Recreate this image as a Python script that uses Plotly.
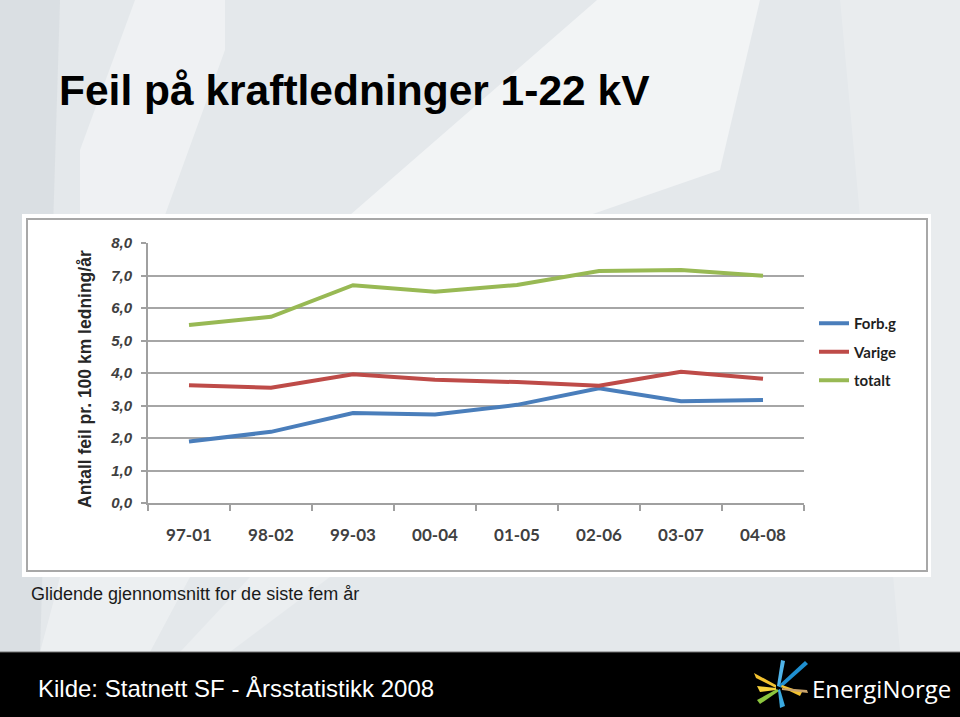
import plotly.graph_objects as go

categories = ["97-01", "98-02", "99-03", "00-04", "01-05", "02-06", "03-07", "04-08"]
forbg = [1.89, 2.19, 2.77, 2.72, 3.02, 3.53, 3.13, 3.17]
varige = [3.62, 3.55, 3.96, 3.79, 3.72, 3.61, 4.04, 3.82]
totalt = [5.48, 5.73, 6.70, 6.50, 6.71, 7.14, 7.17, 6.99]
series_names = ["Forb.g", "Varige", "totalt"]
series_colors = ["#4a7ebb", "#be4b48", "#98b954"]
y_ticks = [0, 1, 2, 3, 4, 5, 6, 7, 8]

W, H = 960, 717
def px(x):
    return x / W
def py(y):
    return 1 - y / H

fig = go.Figure()
for i, (name, vals) in enumerate(zip(series_names, [forbg, varige, totalt])):
    fig.add_trace(go.Scatter(
        x=categories, y=vals, mode="lines", name=name,
        line=dict(color=series_colors[i], width=4),
        legendgroup=name, hoverinfo="skip"))

def poly(pts, color, layer="below"):
    p = "M " + " L ".join(f"{px(a)} {py(b)}" for a, b in pts) + " Z"
    return dict(type="path", xref="paper", yref="paper", layer=layer, path=p,
                fillcolor=color, line=dict(width=0))

shapes = []
# background gradient-ish bands
shapes.append(poly([(0, 0), (60, 0), (40, 652), (0, 652)], "rgba(200,205,212,0.35)"))
shapes.append(poly([(135, 0), (225, 0), (225, 50), (165, 215), (80, 215), (80, 150)], "rgba(255,255,255,0.40)"))
shapes.append(poly([(597, 0), (760, 0), (720, 170), (590, 215), (350, 215)], "rgba(255,255,255,0.50)"))
shapes.append(poly([(840, 0), (960, 0), (960, 652), (900, 652)], "rgba(255,255,255,0.18)"))
shapes.append(poly([(60, 577), (190, 577), (150, 652), (40, 652)], "rgba(255,255,255,0.30)"))
shapes.append(poly([(250, 577), (330, 577), (230, 652), (180, 652)], "rgba(255,255,255,0.25)"))
# chart white box
shapes.append(dict(type="rect", xref="paper", yref="paper", layer="below",
                   x0=px(22), x1=px(931), y0=py(577), y1=py(214),
                   fillcolor="#ffffff", line=dict(width=0)))
shapes.append(dict(type="rect", xref="paper", yref="paper", layer="below",
                   x0=px(27), x1=px(927), y0=py(571), y1=py(219),
                   fillcolor="#ffffff", line=dict(color="#a8a8a8", width=2)))
# footer bar
shapes.append(dict(type="rect", xref="paper", yref="paper", layer="above",
                   x0=0, x1=1, y0=0, y1=py(652),
                   fillcolor="#000000", line=dict(width=0)))
shapes.append(dict(type="line", xref="paper", yref="paper", layer="above",
                   x0=0, x1=1, y0=py(652), y1=py(652),
                   line=dict(color="#707070", width=1)))
# logo shards (approximate)
shapes += [
    poly([(777, 686), (781, 660), (785, 661), (780, 687)], "#4fb3e8", "above"),
    poly([(779, 685), (805, 661), (808, 664), (781, 688)], "#1f8fd0", "above"),
    poly([(776, 685), (754, 673), (756, 678), (776, 688)], "#f2c230", "above"),
    poly([(776, 688), (757, 686), (760, 692), (776, 690)], "#f7d23c", "above"),
    poly([(777, 689), (757, 700), (760, 704), (779, 691)], "#8cc63f", "above"),
    poly([(778, 690), (780, 708), (785, 706), (780, 689)], "#3aa9e0", "above"),
    poly([(781, 687), (800, 696), (802, 692), (782, 685)], "#f2c230", "above"),
    poly([(782, 688), (807, 690), (808, 693), (782, 690)], "#c9a36a", "above"),
]

annotations = [
    dict(text="<b>Feil på kraftledninger 1-22 kV</b>", x=px(57), y=py(90), xref="paper", yref="paper",
         xanchor="left", yanchor="middle", showarrow=False,
         font=dict(family="Liberation Sans, Arial", size=42.5, color="#000000")),
    dict(text="Glidende gjennomsnitt for de siste fem år", x=px(29), y=py(594), xref="paper", yref="paper",
         xanchor="left", yanchor="middle", showarrow=False,
         font=dict(family="Liberation Sans, Arial", size=18, color="#1a1a1a")),
    dict(text="Kilde: Statnett SF - Årsstatistikk 2008", x=px(36), y=py(688), xref="paper", yref="paper",
         xanchor="left", yanchor="middle", showarrow=False,
         font=dict(family="Liberation Sans, Arial", size=24, color="#ffffff")),
    dict(text="EnergiNorge", x=px(810), y=py(688), xref="paper", yref="paper",
         xanchor="left", yanchor="middle", showarrow=False,
         font=dict(family="Open Sans", size=24, color="#ffffff")),
    dict(text="<b>Antall feil pr. 100 km ledning/år</b>", x=px(85), y=py(379), xref="paper", yref="paper",
         xanchor="center", yanchor="middle", showarrow=False, textangle=-90,
         font=dict(family="Liberation Sans, Arial", size=17.5, color="#262626")),
]

fig.update_layout(
    width=W, height=H,
    margin=dict(l=0, r=0, t=0, b=0, pad=0, autoexpand=False),
    paper_bgcolor="#e4e8eb",
    plot_bgcolor="rgba(0,0,0,0)",
    separators=", ",
    shapes=shapes,
    annotations=annotations,
    showlegend=True,
    legend=dict(x=px(814), y=py(307), xanchor="left", yanchor="top",
                bgcolor="rgba(0,0,0,0)", traceorder="grouped", tracegroupgap=6,
                font=dict(family="Lato, Liberation Sans", size=15, color="#1f1f1f", weight="bold")),
    xaxis=dict(domain=[px(148), px(804)], type="category", range=[-0.5, 7.5], automargin=False,
               showgrid=False, showline=True, linecolor="#a0a0a0", linewidth=2,
               ticks="outside", tickson="boundaries", ticklen=6, tickcolor="#a0a0a0", tickwidth=2,
               ticklabelstandoff=16,
               tickfont=dict(family="Lato, Liberation Sans", size=17, color="#404040", weight="bold"),
               fixedrange=True),
    yaxis=dict(domain=[py(503), py(243)], range=[0, 8], tickvals=y_ticks, tickformat=".1f",
               automargin=False,
               showgrid=True, gridcolor="#a6a6a6", gridwidth=2, zeroline=False,
               showline=True, linecolor="#a0a0a0", linewidth=2,
               ticks="outside", ticklen=5, tickcolor="#a0a0a0", tickwidth=2,
               ticklabelstandoff=6,
               tickfont=dict(family="Liberation Sans, Arial", size=15, color="#404040",
                             weight="bold", style="italic"),
               fixedrange=True),
)

fig.write_html("out.html", config={"displayModeBar": False},
               post_script="document.body.style.margin='0px';")
